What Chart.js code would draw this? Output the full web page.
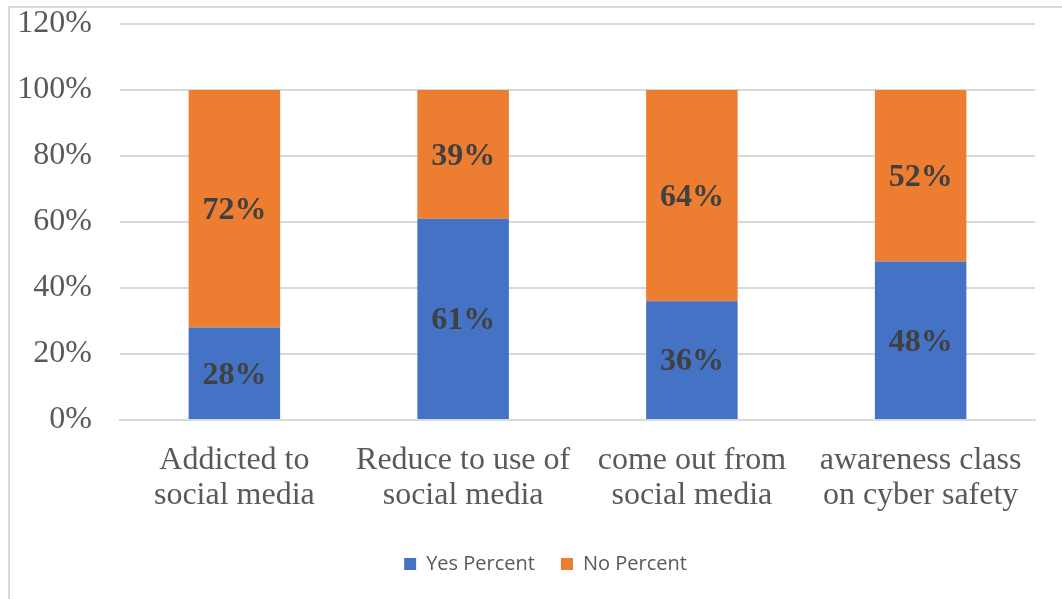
<!DOCTYPE html>
<html>
<head>
<meta charset="utf-8">
<script src="https://cdn.jsdelivr.net/npm/chart.js@4"></script>
<style>
  html, body { margin: 0; padding: 0; background: #fff; overflow: hidden; }
  #frame { position: absolute; left: 8px; top: 6px; width: 1100px; height: 650px; border: 2px solid #d9d9d9; }
  #wrap { position: absolute; left: 0; top: 0; width: 1062px; height: 599px; }
</style>
</head>
<body>
<div id="frame"></div>
<div id="wrap"><canvas id="myChart"></canvas></div>
<script>
// data
const categories = [
    ['Addicted to', 'social media'],
    ['Reduce to use of', 'social media'],
    ['come out from', 'social media'],
    ['awareness class', 'on cyber safety']
];
const yesPercent = [28, 61, 36, 48];
const noPercent = [72, 39, 64, 52];
const yTicks = [0, 20, 40, 60, 80, 100, 120];

// labels in the middle of each bar
const barLabels = {
    id: 'barLabels',
    afterDatasetsDraw(chart) {
        const c = chart.ctx;
        c.save();
        c.font = 'bold 32px "Liberation Serif"';
        c.fillStyle = '#404040';
        c.textAlign = 'center';
        c.textBaseline = 'middle';
        chart.data.datasets.forEach((ds, i) => {
            chart.getDatasetMeta(i).data.forEach((bar, j) => {
                const mid = (bar.y + bar.base) / 2;
                c.fillText(ds.data[j] + '%', bar.x, mid + 2);
            });
        });
        c.restore();
    }
};

// legend sits a bit right of the canvas centre
const shiftLegend = {
    id: 'shiftLegend',
    afterLayout(chart) {
        chart.legend.left += 28;
        chart.legend.right += 28;
    }
};

const ctx = document.getElementById('myChart');
const chart = new Chart(ctx, {
    type: 'bar',
    data: {
        labels: categories,
        datasets: [{
            label: 'Yes Percent',
            data: yesPercent,
            backgroundColor: '#4472C4'
        }, {
            label: 'No Percent',
            data: noPercent,
            backgroundColor: '#ED7D31'
        }]
    },
    options: {
        responsive: true,
        maintainAspectRatio: false,
        animation: false,
        layout: { padding: { top: 24, right: 27, left: 0, bottom: 15 } },
        datasets: { bar: { categoryPercentage: 1, barPercentage: 0.4 } },
        plugins: {
            legend: {
                position: 'bottom',
                labels: {
                    boxWidth: 12,
                    boxHeight: 12,
                    padding: 26,
                    color: '#595959',
                    font: { family: '"Open Sans"', size: 20 }
                }
            },
            tooltip: { enabled: false }
        },
        scales: {
            x: {
                stacked: true,
                grid: { display: false },
                border: { color: '#d9d9d9', width: 2 },
                ticks: {
                    color: '#595959',
                    padding: 15,
                    maxRotation: 0,
                    font: { family: '"Liberation Serif"', size: 32, lineHeight: 1.1 }
                },
                afterFit(scale) {
                    scale.height = 108;
                    scale.paddingLeft = 0;
                    scale.paddingRight = 0;
                }
            },
            y: {
                stacked: true,
                min: 0,
                max: 120,
                afterBuildTicks(scale) { scale.ticks = yTicks.map(v => ({ value: v })); },
                grid: { color: '#d9d9d9', lineWidth: 2, drawTicks: false },
                border: { display: false },
                ticks: {
                    color: '#595959',
                    padding: 28,
                    font: { family: '"Liberation Serif"', size: 32 },
                    callback: v => v + '%'
                },
                afterFit(scale) {
                    scale.width = 120;
                    scale.paddingTop = 0;
                    scale.paddingBottom = 0;
                }
            }
        }
    },
    plugins: [barLabels, shiftLegend]
});
</script>
</body>
</html>
